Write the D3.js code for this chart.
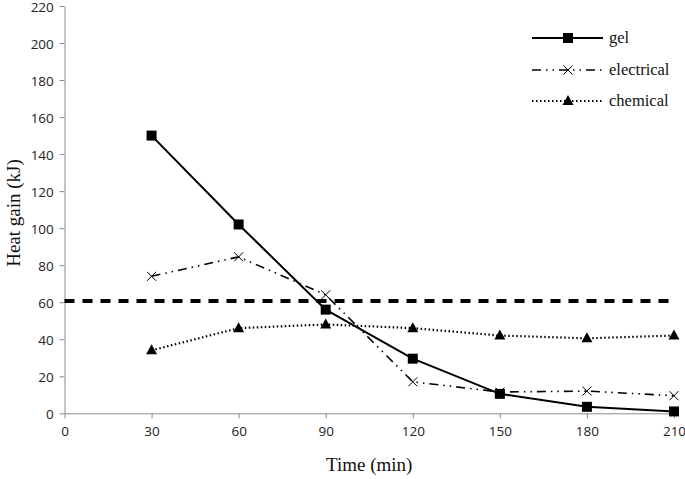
<!DOCTYPE html>
<html><head><meta charset="utf-8">
<script src="https://cdn.jsdelivr.net/npm/d3@7"></script>
<style>body{margin:0;background:#fff}svg{display:block}</style>
</head><body>
<svg id="c" width="685" height="479"></svg>
<script>
const times = [30, 60, 90, 120, 150, 180, 210];
const gel = [150, 102, 56, 29.5, 10.5, 3.5, 1];
const electrical = [74, 84.5, 64, 17, 11.5, 12, 9.5];
const chemical = [34, 46, 48, 46, 42, 40.5, 42];
const threshold = 60.7;
const xTicks = [0, 30, 60, 90, 120, 150, 180, 210];
const yTicks = [0, 20, 40, 60, 80, 100, 120, 140, 160, 180, 200, 220];
const seriesNames = ["gel", "electrical", "chemical"];

const svg = d3.select("#c");
const x = d3.scaleLinear().domain([0, 210]).range([64.5, 674]);
const y = d3.scaleLinear().domain([0, 220]).range([413.3, 6]);
const axisColor = "#8c8c8c";
const tickFont = "'Open Sans', 'Liberation Sans', sans-serif";
const serif = "'Liberation Serif', 'Times New Roman', serif";

// axes
const xa = svg.append("g").attr("transform", `translate(0,${y(0)})`)
  .call(d3.axisBottom(x).tickValues(xTicks).tickSize(5).tickSizeOuter(0).tickFormat(d3.format("d")));
const ya = svg.append("g").attr("transform", `translate(${x(0)},0)`)
  .call(d3.axisLeft(y).tickValues(yTicks).tickSize(5).tickSizeOuter(0).tickFormat(d3.format("d")));
[xa, ya].forEach(a => {
  a.selectAll("path,line").attr("stroke", axisColor).attr("stroke-width", 1);
  a.selectAll("text").attr("fill", "#222").style("font-family", tickFont).style("font-size", "13.5px");
});
xa.selectAll("text").attr("dy", "1.1em");
ya.selectAll("text").attr("dx", "-0.2em").attr("dy", "0.4em");

// titles
svg.append("text").attr("x", x(105)).attr("y", 471).attr("text-anchor", "middle")
  .style("font-family", serif).style("font-size", "19px").attr("fill", "#111").text("Time (min)");
svg.append("text").attr("transform", `translate(20,${213}) rotate(-90)`).attr("text-anchor", "middle")
  .style("font-family", serif).style("font-size", "19px").attr("fill", "#111").text("Heat gain (kJ)");

// threshold line
svg.append("line").attr("x1", x(0)).attr("x2", x(210)).attr("y1", y(threshold)).attr("y2", y(threshold))
  .attr("stroke", "#000").attr("stroke-width", 4).attr("stroke-dasharray", "10,8");

const line = d3.line().x(d => x(d[0])).y(d => y(d[1]));
const styles = {
  gel: {dash: null, w: 2, cap: "butt"},
  electrical: {dash: "9,5,1.5,5,1.5,5", w: 1.6, cap: "butt"},
  chemical: {dash: "1.5,2.5", w: 2.2, cap: "butt"}
};
const data = {gel, electrical, chemical};

function marker(g, name, cx, cy) {
  if (name === "gel") {
    g.append("rect").attr("x", cx - 5).attr("y", cy - 5).attr("width", 10).attr("height", 10).attr("fill", "#000");
  } else if (name === "electrical") {
    const s = 4.5;
    g.append("path").attr("d", `M${cx-s},${cy-s}L${cx+s},${cy+s}M${cx-s},${cy+s}L${cx+s},${cy-s}`)
      .attr("stroke", "#000").attr("stroke-width", 1).attr("fill", "none");
  } else {
    g.append("path").attr("d", `M${cx},${cy-6}L${cx+5.5},${cy+4}L${cx-5.5},${cy+4}Z`).attr("fill", "#000");
  }
}

["chemical", "electrical", "gel"].forEach(name => {
  const pts = times.map((t, i) => [t, data[name][i]]);
  const st = styles[name];
  svg.append("path").attr("d", line(pts)).attr("fill", "none").attr("stroke", "#000")
    .attr("stroke-width", st.w).attr("stroke-dasharray", st.dash).attr("stroke-linecap", st.cap);
  const g = svg.append("g");
  pts.forEach(p => marker(g, name, x(p[0]), y(p[1])));
});

// legend
const legY = [38, 70, 101];
seriesNames.forEach((name, i) => {
  const st = styles[name];
  const ly = legY[i];
  svg.append("line").attr("x1", 532).attr("x2", 603).attr("y1", ly).attr("y2", ly)
    .attr("stroke", "#000").attr("stroke-width", st.w).attr("stroke-dasharray", st.dash);
  const g = svg.append("g");
  marker(g, name, 568, ly);
  svg.append("text").attr("x", 609).attr("y", ly + 5).style("font-family", serif).style("font-size", "16.5px")
    .attr("fill", "#111").text(name);
});
</script>
</body></html>
